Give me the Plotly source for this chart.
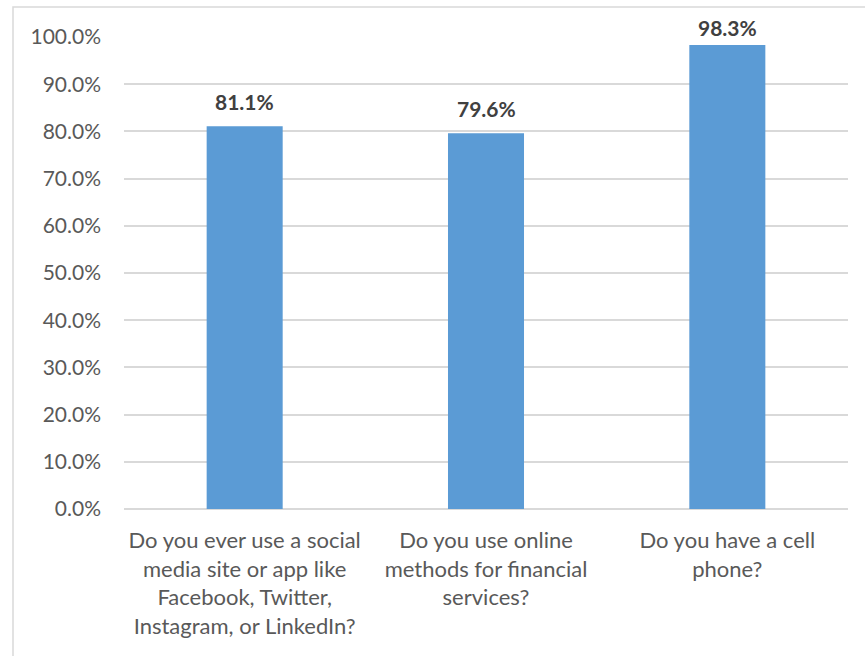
import plotly.graph_objects as go

categories = [
    "Do you ever use a social<br>media site or app like<br>Facebook, Twitter,<br>Instagram, or LinkedIn?",
    "Do you use online<br>methods for financial<br>services?",
    "Do you have a cell<br>phone?",
]
values = [81.1, 79.6, 98.3]
labels = ["81.1%", "79.6%", "98.3%"]
tick_vals = [0, 10, 20, 30, 40, 50, 60, 70, 80, 90, 100]
tick_text = ["0.0%", "10.0%", "20.0%", "30.0%", "40.0%", "50.0%", "60.0%", "70.0%", "80.0%", "90.0%", "100.0%"]

FONT = "Lato, Calibri, Carlito, sans-serif"

l, r, t, b = 124, 17, 37, 147
W, H = 865, 656
pw, ph = W - l - r, H - t - b

fig = go.Figure()
fig.add_trace(go.Bar(
    x=categories, y=values,
    marker=dict(color="#5B9BD5", line=dict(width=0)),
    width=0.315,
    hoverinfo="skip",
))

for c, v, txt in zip(categories, values, labels):
    py = t + (100 - v) / 100 * ph  # bar top in pixels
    shift = min(25, py - 28)       # keep label inside the chart area
    fig.add_annotation(x=c, y=v, text="<b>" + txt + "</b>", showarrow=False,
                       yanchor="middle", yshift=shift,
                       font=dict(family=FONT, size=21, color="#404040"))

x0 = (13 - l) / pw
x1 = (W + 1 - l) / pw
y1 = (H - b - 7) / ph
y0 = (H - b - (H + 1)) / ph
fig.add_shape(type="rect", xref="paper", yref="paper", x0=x0, x1=x1, y0=y0, y1=y1,
              line=dict(color="#D9D9D9", width=1.5), fillcolor="rgba(0,0,0,0)", layer="below")

fig.update_layout(
    width=W, height=H,
    margin=dict(l=l, r=r, t=t, b=b, pad=0),
    paper_bgcolor="white", plot_bgcolor="white",
    showlegend=False,
    font=dict(family=FONT, size=21, color="#595959"),
    xaxis=dict(showgrid=False, showline=False, ticks="", tickfont=dict(size=22, color="#595959"),
               ticklabelstandoff=16, fixedrange=True),
    yaxis=dict(range=[0, 100], tickvals=tick_vals, ticktext=tick_text,
               showgrid=True, gridcolor="#D9D9D9", gridwidth=1.5,
               zeroline=True, zerolinecolor="#D9D9D9", zerolinewidth=1.5,
               showline=False, ticks="", ticklabelstandoff=22,
               tickfont=dict(size=21, color="#595959"), fixedrange=True),
)

fig.write_html("out.html")
